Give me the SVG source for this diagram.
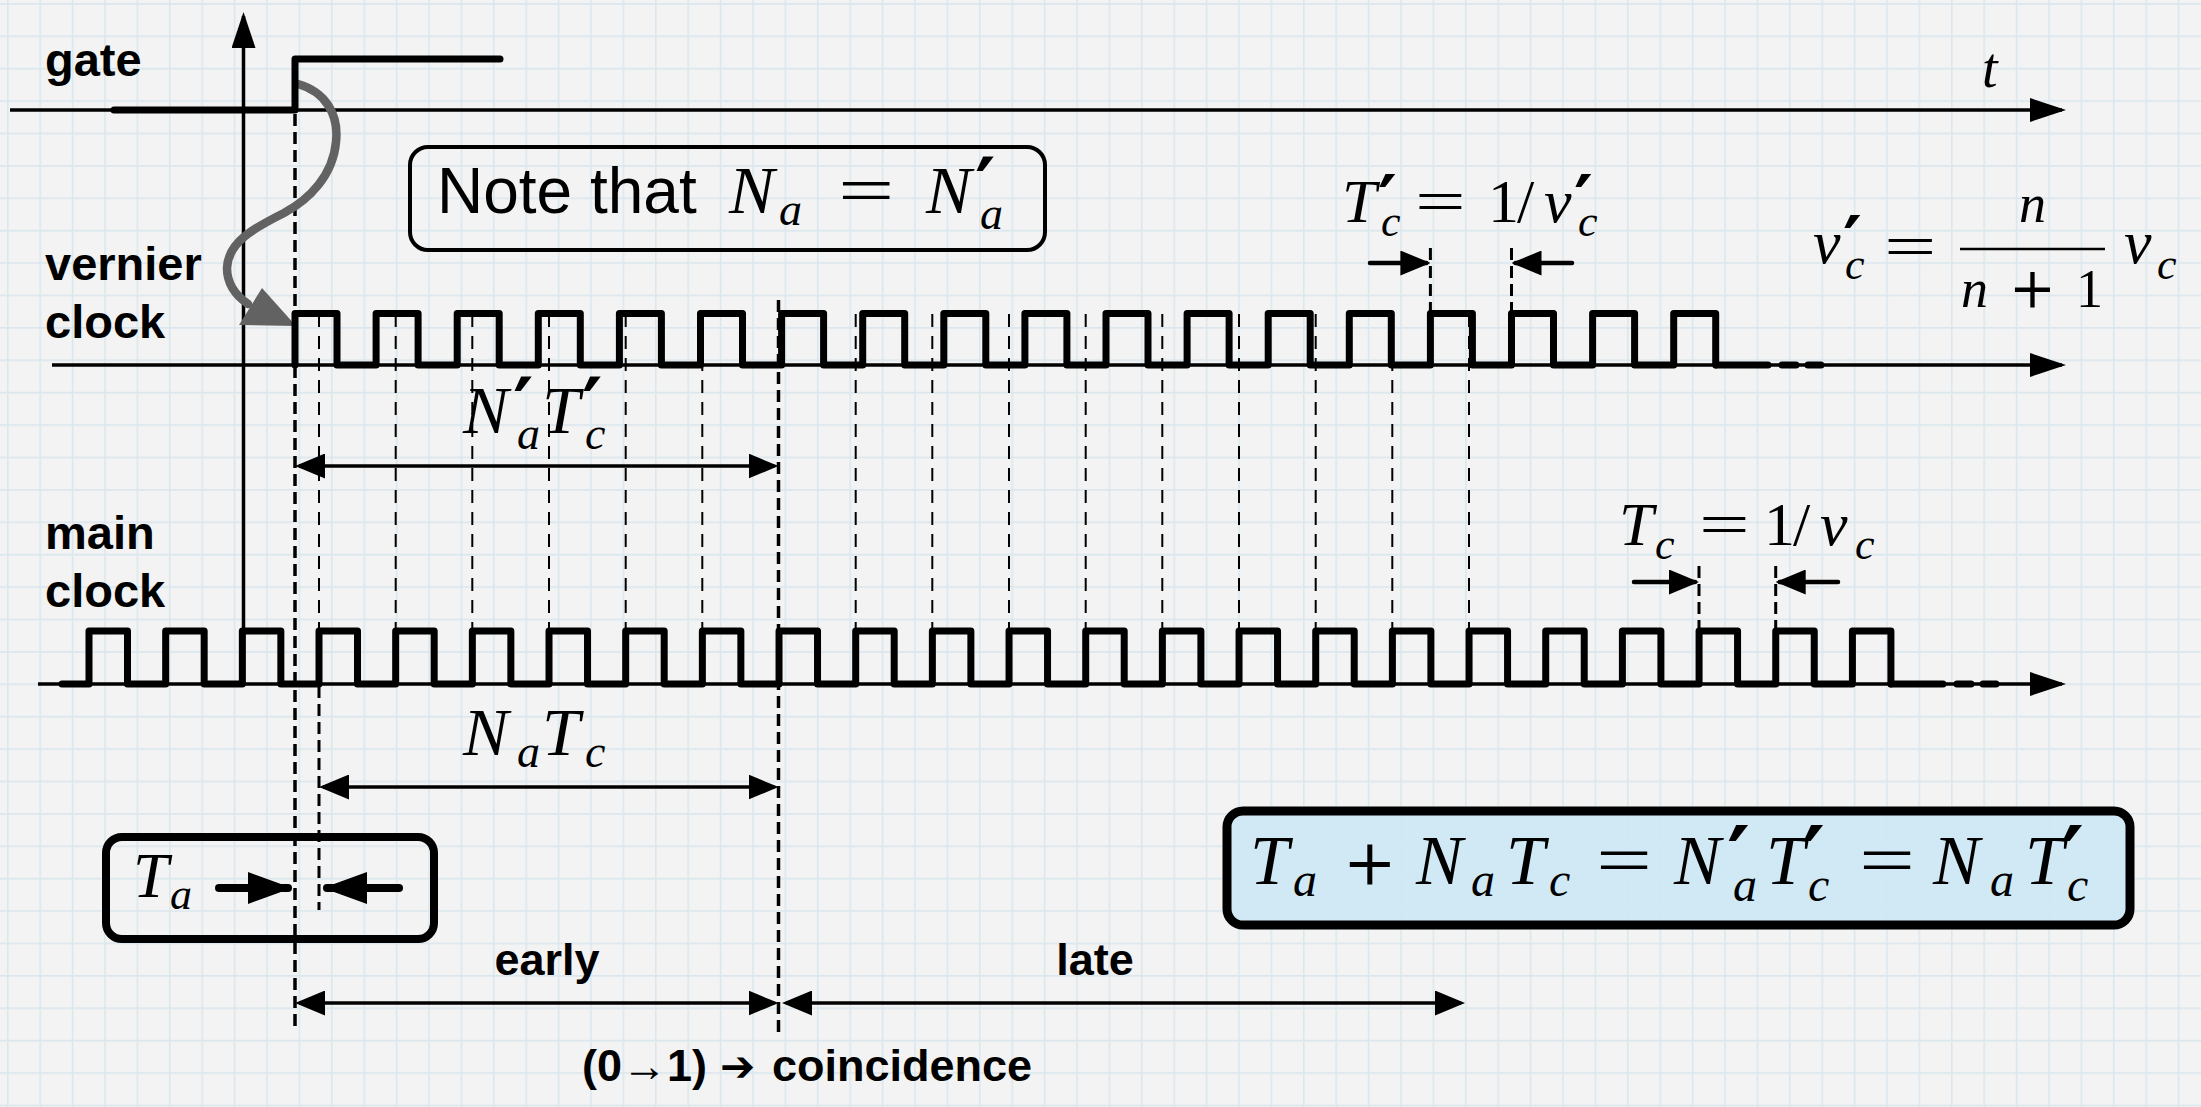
<svg xmlns="http://www.w3.org/2000/svg" width="2201" height="1107" viewBox="0 0 2201 1107">
<defs>
<pattern id="grid" width="32.4" height="32.4" patternUnits="userSpaceOnUse" patternTransform="translate(7,3)">
<path d="M0,0.8 H32.4 M0.8,0 V32.4" stroke="#dbe7ee" stroke-width="1.6" fill="none"/>
</pattern>
<marker id="ax" viewBox="0 0 36 24" refX="32" refY="12" markerWidth="36" markerHeight="24" markerUnits="userSpaceOnUse" orient="auto-start-reverse"><path d="M0,0 L36,12 L0,24 Z" fill="#000"/></marker>
<marker id="dim" viewBox="0 0 30 25" refX="26" refY="12.5" markerWidth="30" markerHeight="25" markerUnits="userSpaceOnUse" orient="auto-start-reverse"><path d="M0,0 L30,12.5 L0,25 Z" fill="#000"/></marker>
<marker id="big" viewBox="0 0 44 32" refX="40" refY="16" markerWidth="44" markerHeight="32" markerUnits="userSpaceOnUse" orient="auto"><path d="M0,0 L44,16 L0,32 Z" fill="#000"/></marker>
<style>
.pulse{fill:none;stroke:#000;stroke-width:7;stroke-linejoin:round;stroke-linecap:round}
.axis{fill:none;stroke:#000;stroke-width:3.5}
.dthin{stroke:#000;stroke-width:2;stroke-dasharray:13 9;fill:none}
.dthick{stroke:#000;stroke-width:3.5;stroke-dasharray:12 6;fill:none}
.dimline{stroke:#000;stroke-width:3.5;fill:none}
.lbl{font-family:"Liberation Sans",Arial,sans-serif;font-weight:bold;font-size:45px;fill:#000}
.side{font-size:47px}
.sans{font-family:"Liberation Sans",Arial,sans-serif;font-style:normal}
.mi{font-family:"Liberation Serif","Times New Roman",serif;font-style:italic;fill:#000}
.mr{font-family:"Liberation Serif","Times New Roman",serif;font-style:normal}
.eq{font-family:"Liberation Serif","Times New Roman",serif;font-style:normal;fill:#000}
.op{font-family:"DejaVu Serif",serif;font-style:normal}
.pr{font-family:"DejaVu Sans",sans-serif;font-style:normal;font-weight:bold}
.box{fill:none;stroke:#000}
</style>
</defs>
<rect x="0" y="0" width="2201" height="1107" fill="#f3f3f3"/>
<rect x="0" y="0" width="2201" height="1107" fill="url(#grid)"/>

<g id="connectors">
  <line class="axis" x1="10" y1="110" x2="2062" y2="110" marker-end="url(#ax)"/>
  <line class="axis" x1="52" y1="365" x2="2062" y2="365" marker-end="url(#ax)"/>
  <line class="axis" x1="38" y1="684" x2="2062" y2="684" marker-end="url(#ax)"/>
  <line class="axis" x1="243.5" y1="684" x2="243.5" y2="16" marker-end="url(#ax)"/>
  <g class="dthin">
    <line x1="319" y1="314" x2="319" y2="631"/>
    <line x1="395.7" y1="314" x2="395.7" y2="631"/>
    <line x1="472.3" y1="314" x2="472.3" y2="631"/>
    <line x1="549" y1="314" x2="549" y2="631"/>
    <line x1="625.7" y1="314" x2="625.7" y2="631"/>
    <line x1="702.3" y1="314" x2="702.3" y2="631"/>
    <line x1="855.7" y1="314" x2="855.7" y2="631"/>
    <line x1="932.3" y1="314" x2="932.3" y2="631"/>
    <line x1="1009" y1="314" x2="1009" y2="631"/>
    <line x1="1085.7" y1="314" x2="1085.7" y2="631"/>
    <line x1="1162.3" y1="314" x2="1162.3" y2="631"/>
    <line x1="1239" y1="314" x2="1239" y2="631"/>
    <line x1="1315.7" y1="314" x2="1315.7" y2="631"/>
    <line x1="1392.3" y1="314" x2="1392.3" y2="631"/>
    <line x1="1469" y1="314" x2="1469" y2="631"/>
  </g>
  <g class="dthick">
    <line x1="295" y1="114" x2="295" y2="1030"/>
    <line x1="778.5" y1="300" x2="778.5" y2="1032"/>
    <line x1="319" y1="686" x2="319" y2="910" stroke-width="3"/>
    <line x1="1430.4" y1="248" x2="1430.4" y2="313" stroke-width="3"/>
    <line x1="1511.5" y1="248" x2="1511.5" y2="313" stroke-width="3"/>
    <line x1="1699" y1="566" x2="1699" y2="631" stroke-width="3"/>
    <line x1="1775.7" y1="566" x2="1775.7" y2="631" stroke-width="3"/>
  </g>
  <line class="dimline" x1="299" y1="466" x2="774.5" y2="466" marker-start="url(#dim)" marker-end="url(#dim)"/>
  <line class="dimline" x1="323" y1="787" x2="774.5" y2="787" marker-start="url(#dim)" marker-end="url(#dim)"/>
  <line class="dimline" x1="299" y1="1003" x2="774.5" y2="1003" marker-start="url(#dim)" marker-end="url(#dim)"/>
  <line class="dimline" x1="786" y1="1003" x2="1461" y2="1003" marker-start="url(#dim)" marker-end="url(#dim)"/>
  <g stroke="#000" stroke-width="4.5" stroke-linecap="round" fill="none">
    <line x1="1370" y1="263" x2="1426.4" y2="263" marker-end="url(#dim)"/>
    <line x1="1572" y1="263" x2="1515.5" y2="263" marker-end="url(#dim)"/>
    <line x1="1634" y1="582" x2="1695" y2="582" marker-end="url(#dim)"/>
    <line x1="1838" y1="582" x2="1779.7" y2="582" marker-end="url(#dim)"/>
  </g>
  <g stroke="#000" stroke-width="8" stroke-linecap="round" fill="none">
    <line x1="219" y1="888" x2="288" y2="888" marker-end="url(#big)"/>
    <line x1="399" y1="888" x2="327" y2="888" marker-end="url(#big)"/>
  </g>
  <path d="M298,84 C326,92 339,115 336,142 C333,175 310,199 284,213 C254,228 228,242 227,268 C227,284 235,295 248,304" fill="none" stroke="#626262" stroke-width="8.5" stroke-linecap="round"/>
  <polygon points="296,326 239,325 262,288" fill="#626262"/>
</g>

<g id="gate-signal">
  <path class="pulse" d="M114,110 H295 V59 H500"/>
  <text class="lbl side" x="45" y="76">gate</text>
  <text class="mi" x="1982" y="87" font-size="56">t</text>
</g>

<g id="vernier-clock">
  <path class="pulse" d="M295,365 v-51.5h42v51.5h39.1 v-51.5h42v51.5h39.1 v-51.5h42v51.5h39.1 v-51.5h42v51.5h39.1 v-51.5h42v51.5h39.1 v-51.5h42v51.5h39.1 v-51.5h42v51.5h39.1 v-51.5h42v51.5h39.1 v-51.5h42v51.5h39.1 v-51.5h42v51.5h39.1 v-51.5h42v51.5h39.1 v-51.5h42v51.5h39.1 v-51.5h42v51.5h39.1 v-51.5h42v51.5h39.1 v-51.5h42v51.5h39.1 v-51.5h42v51.5h39.1 v-51.5h42v51.5h39.1 v-51.5h42v51.5"/>
  <line x1="1716" y1="365" x2="1823" y2="365" stroke="#000" stroke-width="7" stroke-linecap="round" stroke-dasharray="52 14 14 12 13"/>
  <text class="lbl side"><tspan x="45" y="280">vernier</tspan><tspan x="45" y="338">clock</tspan></text>
</g>

<g id="main-clock">
  <path class="pulse" d="M62,684 H89 v-53h38.5v53h38.17 v-53h38.5v53h38.17 v-53h38.5v53h38.17 v-53h38.5v53h38.17 v-53h38.5v53h38.17 v-53h38.5v53h38.17 v-53h38.5v53h38.17 v-53h38.5v53h38.17 v-53h38.5v53h38.17 v-53h38.5v53h38.17 v-53h38.5v53h38.17 v-53h38.5v53h38.17 v-53h38.5v53h38.17 v-53h38.5v53h38.17 v-53h38.5v53h38.17 v-53h38.5v53h38.17 v-53h38.5v53h38.17 v-53h38.5v53h38.17 v-53h38.5v53h38.17 v-53h38.5v53h38.17 v-53h38.5v53h38.17 v-53h38.5v53h38.17 v-53h38.5v53h38.17 v-53h38.5v53"/>
  <line x1="1891" y1="684" x2="1998" y2="684" stroke="#000" stroke-width="7" stroke-linecap="round" stroke-dasharray="52 14 14 12 13"/>
  <text class="lbl side"><tspan x="45" y="549">main</tspan><tspan x="45" y="607">clock</tspan></text>
</g>

<g id="note-box">
  <rect class="box" x="410" y="147" width="635" height="103" rx="18" stroke-width="4"/>
  <text class="mi" font-size="68"><tspan class="sans" x="437" y="213" font-size="64">Note that</tspan><tspan x="729" y="213">N</tspan><tspan x="779" y="225" font-size="46">a</tspan></text>
  <text class="eq" font-size="68" transform="translate(838,213) scale(1.47,1)">=</text>
  <text class="mi" font-size="68"><tspan x="926" y="213">N</tspan><tspan class="pr" x="975" y="214" font-size="78">′</tspan><tspan x="980" y="229" font-size="46">a</tspan></text>
</g>

<g id="label-NaTc-prime">
  <text class="mi" font-size="68"><tspan x="463" y="433">N</tspan><tspan class="pr" x="513" y="434" font-size="78">′</tspan><tspan x="517" y="449" font-size="46">a</tspan><tspan x="542" y="433">T</tspan><tspan class="pr" x="582" y="434" font-size="78">′</tspan><tspan x="585" y="449" font-size="46">c</tspan></text>
</g>

<g id="label-NaTc">
  <text class="mi" font-size="68"><tspan x="463" y="755">N</tspan><tspan x="517" y="767" font-size="46">a</tspan><tspan x="542" y="755">T</tspan><tspan x="585" y="767" font-size="46">c</tspan></text>
</g>

<g id="Ta-box">
  <rect class="box" x="106" y="837" width="328" height="102" rx="16" stroke-width="8"/>
  <text class="mi" font-size="64"><tspan x="133" y="897">T</tspan><tspan x="170" y="909" font-size="44">a</tspan></text>
</g>

<g id="label-Tc-prime">
  <text class="mi" font-size="62"><tspan x="1342" y="222">T</tspan><tspan class="pr" x="1378" y="226" font-size="72">′</tspan><tspan x="1381" y="236" font-size="44">c</tspan></text>
  <text class="eq" font-size="62" transform="translate(1415,222) scale(1.45,1)">=</text>
  <text class="mi" font-size="62"><tspan class="mr" x="1488" y="222">1</tspan><tspan class="mr" x="1517" y="222">/</tspan><tspan x="1544" y="222">ν</tspan><tspan class="pr" x="1574" y="226" font-size="72">′</tspan><tspan x="1578" y="236" font-size="44">c</tspan></text>
</g>

<g id="label-Tc">
  <text class="mi" font-size="62"><tspan x="1619" y="545">T</tspan><tspan x="1655" y="559" font-size="44">c</tspan></text>
  <text class="eq" font-size="62" transform="translate(1699,545) scale(1.45,1)">=</text>
  <text class="mi" font-size="62"><tspan class="mr" x="1764" y="545">1</tspan><tspan class="mr" x="1793" y="545">/</tspan><tspan x="1820" y="545">ν</tspan><tspan x="1855" y="559" font-size="44">c</tspan></text>
</g>

<g id="label-nu-ratio">
  <text class="mi" font-size="62"><tspan x="1813" y="263">ν</tspan><tspan class="pr" x="1843" y="267" font-size="72">′</tspan><tspan x="1845" y="279" font-size="44">c</tspan></text>
  <text class="eq" font-size="62" transform="translate(1884,267) scale(1.5,1)">=</text>
  <text class="mi" font-size="54"><tspan x="2019" y="222">n</tspan><tspan x="1961" y="307">n</tspan><tspan class="op" x="2009" y="307" font-size="56">+</tspan><tspan class="mr" x="2076" y="307">1</tspan></text>
  <text class="mi" font-size="62"><tspan x="2124" y="263">ν</tspan><tspan x="2157" y="279" font-size="44">c</tspan></text>
  <line x1="1960" y1="249" x2="2105" y2="249" stroke="#000" stroke-width="2.5"/>
</g>

<g id="equation-box">
  <rect x="1227" y="811" width="903" height="114" rx="16" fill="#cde8f5" fill-opacity="0.9" stroke="#000" stroke-width="9"/>
  <text class="mi" font-size="70"><tspan x="1250" y="884">T</tspan><tspan x="1293" y="896" font-size="48">a</tspan><tspan class="op" x="1343" y="884" font-size="64">+</tspan><tspan x="1416" y="884">N</tspan><tspan x="1471" y="896" font-size="48">a</tspan><tspan x="1506" y="884">T</tspan><tspan x="1549" y="896" font-size="48">c</tspan></text>
  <text class="eq" font-size="70" transform="translate(1596,884) scale(1.42,1)">=</text>
  <text class="mi" font-size="70"><tspan x="1674" y="884">N</tspan><tspan class="pr" x="1727" y="889" font-size="88">′</tspan><tspan x="1733" y="901" font-size="48">a</tspan><tspan x="1766" y="884">T</tspan><tspan class="pr" x="1802" y="889" font-size="88">′</tspan><tspan x="1808" y="901" font-size="48">c</tspan></text>
  <text class="eq" font-size="70" transform="translate(1859,884) scale(1.42,1)">=</text>
  <text class="mi" font-size="70"><tspan x="1933" y="884">N</tspan><tspan x="1990" y="896" font-size="48">a</tspan><tspan x="2025" y="884">T</tspan><tspan class="pr" x="2061" y="889" font-size="88">′</tspan><tspan x="2067" y="901" font-size="48">c</tspan></text>
</g>

<g id="timing-labels">
  <text class="lbl" x="547" y="975" text-anchor="middle">early</text>
  <text class="lbl" x="1095" y="975" text-anchor="middle">late</text>
  <text class="lbl"><tspan x="582" y="1081">(0→1)</tspan><tspan x="720" y="1081" font-family="'DejaVu Sans',sans-serif" font-size="42">➔</tspan><tspan x="772" y="1081">coincidence</tspan></text>
</g>
</svg>
